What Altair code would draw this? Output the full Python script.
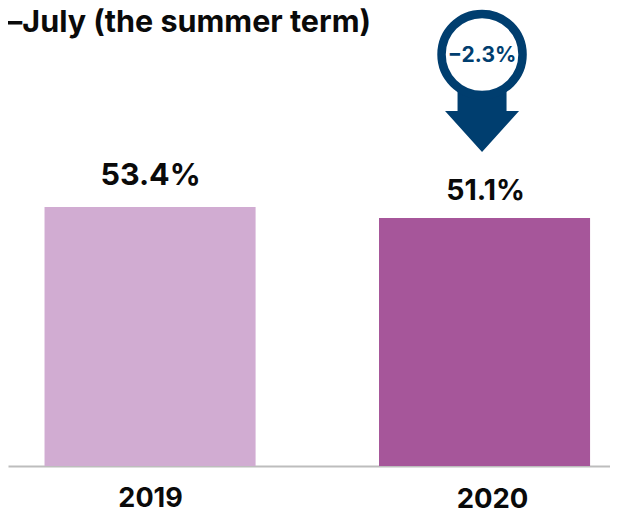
import altair as alt
import pandas as pd

years = ["2019", "2020"]
shares = [53.4, 51.1]
share_labels = ["53.4%", "51.1%"]
bar_colors = ["#D1ACD2", "#A6569A"]
change_label = "−2.3%"
title_text = "May–July (the summer term)"

FONT = "Inter"
NAVY = "#003E6F"
INK = "#0A0A0A"

df = pd.DataFrame({"year": years, "share": shares, "label": share_labels})
x = alt.X(
    "year:N",
    scale=alt.Scale(domain=years, paddingInner=0.369, paddingOuter=0.0844, align=0.647),
    axis=alt.Axis(title=None, labels=False, ticks=False, grid=False,
                  domainColor="#BDBDBD", domainWidth=2),
)
y = alt.Y("share:Q", scale=alt.Scale(domain=[0, 94.4]), axis=None)

bars = alt.Chart(df).mark_bar().encode(
    x=x, y=y,
    color=alt.Color("year:N", scale=alt.Scale(domain=years, range=bar_colors), legend=None),
)


def value_label(year, size, dy, off):
    return alt.Chart(df).transform_filter(alt.datum.year == year).mark_text(
        font=FONT, fontWeight=700, fontSize=size, color=INK, baseline="alphabetic",
        dy=dy, xOffset=off
    ).encode(x=x, y=y, text="label:N")


def year_label(year, size, base, off):
    return alt.Chart(df).transform_filter(alt.datum.year == year).mark_text(
        font=FONT, fontWeight=700, fontSize=size, color=INK, baseline="alphabetic",
        xOffset=off
    ).encode(x=x, y=alt.value(base), text="year:N")


arrow_path = "M-.662,-.905 L.662,-.905 L.662,-.203 L1,-.203 L0,.905 L-1,-.203 L-.662,-.203 Z"
arrow = alt.Chart(df).transform_filter(alt.datum.year == "2020").mark_point(
    shape=arrow_path, size=74 ** 2, filled=True, color=NAVY, opacity=1, xOffset=-2.5
).encode(x=x, y=alt.value(110.5))
ring = alt.Chart(df).transform_filter(alt.datum.year == "2020").mark_point(
    shape="circle", size=81 ** 2, filled=True, fill="white", stroke=NAVY, strokeWidth=8.5,
    opacity=1, xOffset=-2.5
).encode(x=x, y=alt.value(46.5))
change = alt.Chart(df).transform_filter(alt.datum.year == "2020").mark_text(
    text=change_label, font=FONT, fontWeight=700, fontSize=21, color=NAVY,
    baseline="alphabetic", xOffset=-2.5
).encode(x=x, y=alt.value(54))
title = alt.Chart(df).transform_filter(alt.datum.year == "2019").mark_text(
    text=title_text, font=FONT, fontWeight=700, fontSize=30.5, color=INK,
    align="right", baseline="alphabetic"
).encode(x=alt.value(363), y=alt.value(24))

chart = alt.layer(
    bars,
    value_label("2019", 30.5, -22, 0.5),
    value_label("2020", 28.5, -18, 1),
    year_label("2019", 27, 499, 0.5),
    year_label("2020", 27.5, 500, 8),
    title, arrow, ring, change,
).properties(
    width=602, height=458,
    autosize=alt.AutoSizeParams(type="none"),
    padding={"left": 0, "top": 0, "right": 0, "bottom": 60},
).configure_view(stroke=None)

chart.save("out.html", embed_options={"renderer": "svg", "actions": False})
